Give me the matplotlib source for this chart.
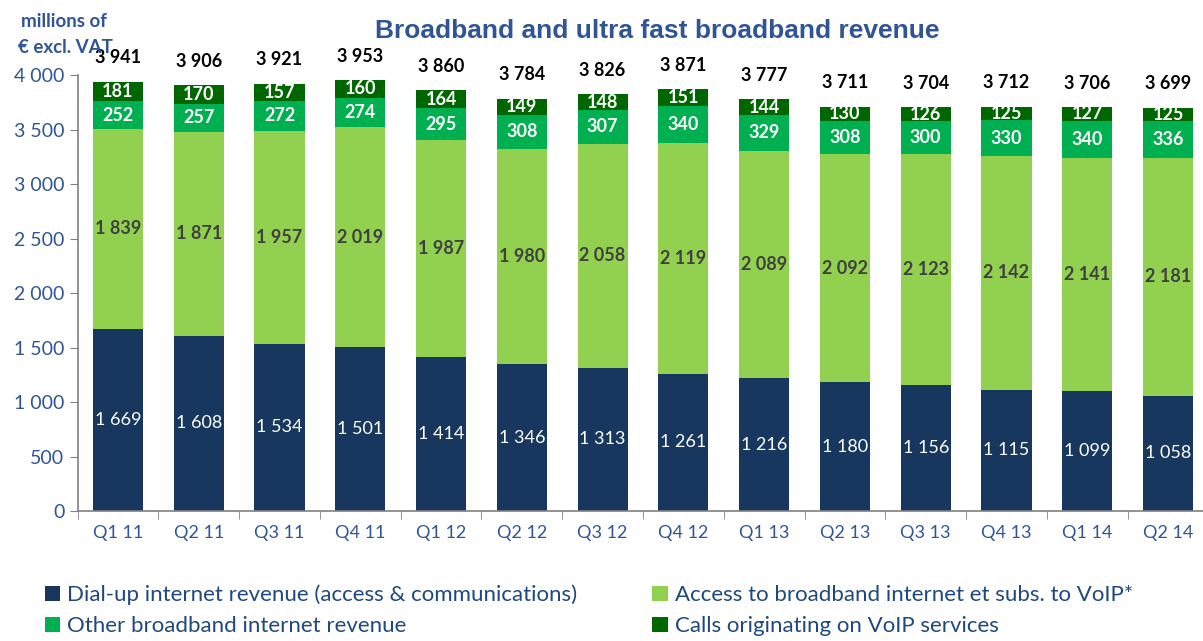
import matplotlib.pyplot as plt
import numpy as np

plt.rcParams['font.family'] = ['Lato', 'DejaVu Sans']

quarters = ['Q1 11', 'Q2 11', 'Q3 11', 'Q4 11', 'Q1 12', 'Q2 12', 'Q3 12',
            'Q4 12', 'Q1 13', 'Q2 13', 'Q3 13', 'Q4 13', 'Q1 14', 'Q2 14']
dialup = [1669, 1608, 1534, 1501, 1414, 1346, 1313, 1261, 1216, 1180, 1156, 1115, 1099, 1058]
access = [1839, 1871, 1957, 2019, 1987, 1980, 2058, 2119, 2089, 2092, 2123, 2142, 2141, 2181]
other = [252, 257, 272, 274, 295, 308, 307, 340, 329, 308, 300, 330, 340, 336]
calls = [181, 170, 157, 160, 164, 149, 148, 151, 144, 130, 126, 125, 127, 125]
totals = [3941, 3906, 3921, 3953, 3860, 3784, 3826, 3871, 3777, 3711, 3704, 3712, 3706, 3699]

series_names = ['Dial-up internet revenue (access & communications)',
                'Access to broadband internet et subs. to VoIP*',
                'Other broadband internet revenue',
                'Calls originating on VoIP services']
colors = ['#17375E', '#92D050', '#00B050', '#006600']
label_colors = ['white', '#404040', 'white', 'white']
label_weights = ['normal', 'bold', 'bold', 'bold']

def fmt(v):
    return '{:,}'.format(v).replace(',', ' ')

fig = plt.figure(figsize=(12.03, 6.41), dpi=100)
ax = fig.add_axes([0.0645, 0.2028, 0.940, 0.680])

x = np.arange(len(quarters))
bottom = np.zeros(len(quarters))
bars = []
for vals, col, lc, lw, name in zip([dialup, access, other, calls], colors,
                                   label_colors, label_weights, series_names):
    vals = np.array(vals)
    b = ax.bar(x, vals, 0.62, bottom=bottom, color=col, label=name, zorder=2)
    bars.append(b)
    for xi, v, bt in zip(x, vals, bottom):
        ax.text(xi, bt + v / 2, fmt(int(v)), ha='center', va='center',
                color=lc, fontsize=13, fontweight=lw)
    bottom = bottom + vals

for xi, t in zip(x, totals):
    ax.text(xi, t + 220, fmt(t), ha='center', va='center', color='black',
            fontsize=13, fontweight='bold')

ax.set_xlim(-0.5, len(quarters) - 0.5)
ax.set_ylim(0, 4000)
ax.set_yticks(np.arange(0, 4001, 500))
ax.set_yticklabels([fmt(v) for v in range(0, 4001, 500)])
ax.set_xticks(x)
ax.set_xticklabels(quarters)
ax.set_xticks(np.arange(-0.5, len(quarters), 1), minor=True)
ax.tick_params(axis='x', which='major', length=0, pad=10, labelsize=13, labelcolor='#2F5597')
ax.tick_params(axis='x', which='minor', length=6, color='#808080', direction='out')
ax.tick_params(axis='y', length=6, color='#808080', labelsize=14, labelcolor='#2F5597')
for s in ['top', 'right']:
    ax.spines[s].set_visible(False)
for s in ['left', 'bottom']:
    ax.spines[s].set_color('#808080')
    ax.spines[s].set_linewidth(1.2)

fig.text(0.546, 0.952, 'Broadband and ultra fast broadband revenue', ha='center',
         va='center', color='#2F5597', fontsize=19, fontweight='bold',
         family=['Liberation Sans', 'DejaVu Sans'])
fig.text(0.053, 0.966, 'millions of', ha='center', va='center', color='#2F5597',
         fontsize=13.5, fontweight='bold')
fig.text(0.054, 0.926, '€ excl. VAT', ha='center', va='center', color='#2F5597',
         fontsize=13.5, fontweight='bold')

handles = [bars[0], bars[2], bars[1], bars[3]]
labels = [series_names[0], series_names[2], series_names[1], series_names[3]]
leg = fig.legend(handles, labels, loc='upper left', bbox_to_anchor=(0.037, 0.088),
                 ncol=2, frameon=False, fontsize=16, handlelength=0.7, handleheight=0.7,
                 handletextpad=0.3, columnspacing=3.4, labelspacing=0.5,
                 borderaxespad=0, borderpad=0)
for t in leg.get_texts():
    t.set_color('#1F497D')

fig.savefig('out.png', dpi=100)
